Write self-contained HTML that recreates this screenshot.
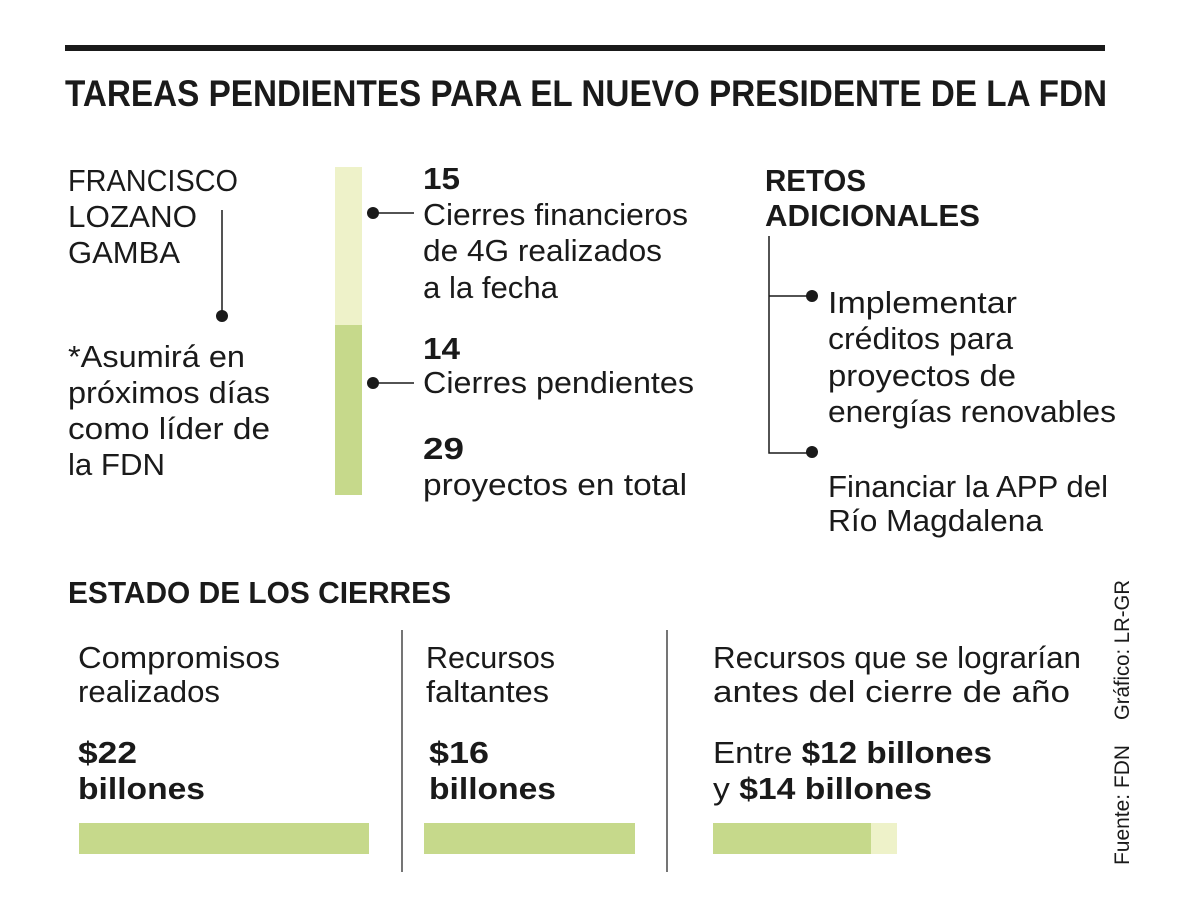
<!DOCTYPE html>
<html><head><meta charset="utf-8"><style>
html,body{margin:0;padding:0;background:#fff;}
svg{display:block;}
text{font-family:"Liberation Sans",sans-serif;fill:#1a1a1a;}
.b{font-weight:bold;}
.t{font-size:31px;}
.bt{font-size:31px;font-weight:bold;}
</style></head><body>
<svg width="1200" height="921" viewBox="0 0 1200 921">
<rect x="65" y="45" width="1040" height="6" fill="#1a1a1a"/>
<text x="65" y="106" font-size="37" class="b" textLength="1042" lengthAdjust="spacingAndGlyphs">TAREAS PENDIENTES PARA EL NUEVO PRESIDENTE DE LA FDN</text>

<g>
<text class="t" x="68" y="191" textLength="170" lengthAdjust="spacingAndGlyphs">FRANCISCO</text>
<text class="t" x="68" y="227" textLength="129" lengthAdjust="spacingAndGlyphs">LOZANO</text>
<text class="t" x="68" y="263" textLength="112" lengthAdjust="spacingAndGlyphs">GAMBA</text>
<line x1="222" y1="210" x2="222" y2="316" stroke="#1a1a1a" stroke-width="1.5"/>
<circle cx="222" cy="316" r="6" fill="#1a1a1a"/>
<text class="t" x="68" y="367" textLength="177" lengthAdjust="spacingAndGlyphs">*Asumirá en</text>
<text class="t" x="68" y="403" textLength="202" lengthAdjust="spacingAndGlyphs">próximos días</text>
<text class="t" x="68" y="439" textLength="202" lengthAdjust="spacingAndGlyphs">como líder de</text>
<text class="t" x="68" y="475" textLength="97" lengthAdjust="spacingAndGlyphs">la FDN</text>
</g>

<g>
<rect x="335" y="167" width="27" height="158" fill="#eef2c9"/>
<rect x="335" y="325" width="27" height="170" fill="#c6d98b"/>
<circle cx="373" cy="213" r="6" fill="#1a1a1a"/>
<line x1="373" y1="213" x2="414" y2="213" stroke="#1a1a1a" stroke-width="1.5"/>
<circle cx="373" cy="383" r="6" fill="#1a1a1a"/>
<line x1="373" y1="383" x2="414" y2="383" stroke="#1a1a1a" stroke-width="1.5"/>
</g>
<g>
<text class="bt" x="423" y="189" textLength="37" lengthAdjust="spacingAndGlyphs">15</text>
<text class="t" x="423" y="225" textLength="265" lengthAdjust="spacingAndGlyphs">Cierres financieros</text>
<text class="t" x="423" y="261" textLength="239" lengthAdjust="spacingAndGlyphs">de 4G realizados</text>
<text class="t" x="423" y="298" textLength="135" lengthAdjust="spacingAndGlyphs">a la fecha</text>
<text class="bt" x="423" y="359" textLength="37" lengthAdjust="spacingAndGlyphs">14</text>
<text class="t" x="423" y="393" textLength="271" lengthAdjust="spacingAndGlyphs">Cierres pendientes</text>
<text class="bt" x="423" y="459" textLength="41" lengthAdjust="spacingAndGlyphs">29</text>
<text class="t" x="423" y="495" textLength="264" lengthAdjust="spacingAndGlyphs">proyectos en total</text>
</g>

<g>
<text class="bt" x="765" y="191" textLength="101" lengthAdjust="spacingAndGlyphs">RETOS</text>
<text class="bt" x="765" y="226" textLength="215" lengthAdjust="spacingAndGlyphs">ADICIONALES</text>
<polyline points="769,236 769,453 812,453" fill="none" stroke="#1a1a1a" stroke-width="1.5"/>
<line x1="769" y1="296" x2="812" y2="296" stroke="#1a1a1a" stroke-width="1.5"/>
<circle cx="812" cy="296" r="6" fill="#1a1a1a"/>
<circle cx="812" cy="452" r="6" fill="#1a1a1a"/>
<text class="t" x="828" y="313" textLength="189" lengthAdjust="spacingAndGlyphs">Implementar</text>
<text class="t" x="828" y="349" textLength="185" lengthAdjust="spacingAndGlyphs">créditos para</text>
<text class="t" x="828" y="386" textLength="188" lengthAdjust="spacingAndGlyphs">proyectos de</text>
<text class="t" x="828" y="422" textLength="288" lengthAdjust="spacingAndGlyphs">energías renovables</text>
<text class="t" x="828" y="497" textLength="280" lengthAdjust="spacingAndGlyphs">Financiar la APP del</text>
<text class="t" x="828" y="531" textLength="215" lengthAdjust="spacingAndGlyphs">Río Magdalena</text>
</g>

<text class="bt" x="68" y="603" textLength="383" lengthAdjust="spacingAndGlyphs">ESTADO DE LOS CIERRES</text>
<line x1="402" y1="630" x2="402" y2="872" stroke="#1a1a1a" stroke-width="1.2"/>
<line x1="667" y1="630" x2="667" y2="872" stroke="#1a1a1a" stroke-width="1.2"/>

<g>
<text class="t" x="78" y="668" textLength="202" lengthAdjust="spacingAndGlyphs">Compromisos</text>
<text class="t" x="78" y="702" textLength="142" lengthAdjust="spacingAndGlyphs">realizados</text>
<text class="bt" x="78" y="763" textLength="59" lengthAdjust="spacingAndGlyphs">$22</text>
<text class="bt" x="78" y="799" textLength="127" lengthAdjust="spacingAndGlyphs">billones</text>
<rect x="79" y="823" width="290" height="31" fill="#c6d98b"/>
</g>
<g>
<text class="t" x="426" y="668" textLength="129" lengthAdjust="spacingAndGlyphs">Recursos</text>
<text class="t" x="426" y="702" textLength="123" lengthAdjust="spacingAndGlyphs">faltantes</text>
<text class="bt" x="429" y="763" textLength="60" lengthAdjust="spacingAndGlyphs">$16</text>
<text class="bt" x="429" y="799" textLength="127" lengthAdjust="spacingAndGlyphs">billones</text>
<rect x="424" y="823" width="211" height="31" fill="#c6d98b"/>
</g>
<g>
<text class="t" x="713" y="668" textLength="368" lengthAdjust="spacingAndGlyphs">Recursos que se lograrían</text>
<text class="t" x="713" y="702" textLength="357" lengthAdjust="spacingAndGlyphs">antes del cierre de año</text>
<text class="t" x="713" y="763" textLength="279" lengthAdjust="spacingAndGlyphs">Entre <tspan class="b">$12 billones</tspan></text>
<text class="t" x="713" y="799" textLength="219" lengthAdjust="spacingAndGlyphs">y <tspan class="b">$14 billones</tspan></text>
<rect x="713" y="823" width="158" height="31" fill="#c6d98b"/>
<rect x="871" y="823" width="26" height="31" fill="#eef2c9"/>
</g>

<text transform="translate(1129,865) rotate(-90)" font-size="21" textLength="120" lengthAdjust="spacingAndGlyphs">Fuente: FDN</text>
<text transform="translate(1129,720) rotate(-90)" font-size="21" textLength="140" lengthAdjust="spacingAndGlyphs">Gráfico: LR-GR</text>
</svg>
</body></html>
